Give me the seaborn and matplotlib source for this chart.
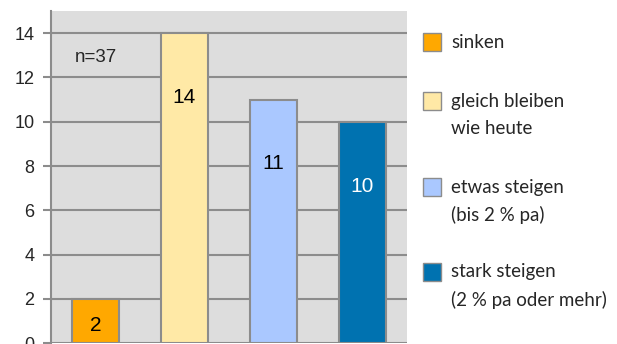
import matplotlib

matplotlib.use("Agg")

import matplotlib.pyplot as plt
import pandas as pd
import seaborn as sns
from matplotlib.patches import Rectangle

categories = ["sinken", "gleich bleiben", "etwas steigen", "stark steigen"]
values = [2, 14, 11, 10]
bar_colors = ["#FFA800", "#FFE9A6", "#AAC8FF", "#0072B0"]
label_colors = ["black", "black", "black", "white"]
legend_lines = [
    ["sinken"],
    ["gleich bleiben", "wie heute"],
    ["etwas steigen", "(bis 2 % pa)"],
    ["stark steigen", "(2 % pa oder mehr)"],
]
y_ticks = [0, 2, 4, 6, 8, 10, 12, 14]
sample_note = "n=37"

frame = pd.DataFrame({"category": categories, "value": values})

sns.set_theme(style="white")
plt.rcParams["font.family"] = ["Liberation Sans", "DejaVu Sans"]

W, H = 617, 344
fig = plt.figure(figsize=(W / 100, H / 100), dpi=100)
ax = fig.add_axes((51 / W, 1 - 343.3 / H, (407 - 51) / W, (343.3 - 11) / H))
ax.set_facecolor("#DDDDDD")

sns.barplot(
    data=frame,
    x="category",
    y="value",
    hue="category",
    palette=bar_colors,
    saturation=1,
    dodge=False,
    width=0.52,
    edgecolor="#8C8C8C",
    linewidth=1.5,
    legend=False,
    ax=ax,
    zorder=3,
)

ax.set_ylim(0, 15)
ax.set_xlim(-0.5, 3.5)
ax.set_yticks(y_ticks)
ax.set_yticklabels([str(t) for t in y_ticks], fontsize=13)
ax.set_xticks([])
ax.set_xlabel("")
ax.set_ylabel("")
ax.yaxis.grid(True, color="#8C8C8C", linewidth=1.5, zorder=1)
ax.set_axisbelow(True)
ax.tick_params(axis="y", left=True, length=6, width=1.5, color="#8C8C8C", pad=6)
for side in ["top", "right", "bottom"]:
    ax.spines[side].set_visible(False)
ax.spines["left"].set_color("#8C8C8C")
ax.spines["left"].set_linewidth(1.5)

for i, (v, c) in enumerate(zip(values, label_colors)):
    y = v - 2.9 if v > 4 else v * 0.41
    ax.text(i, y, str(v), ha="center", va="center", fontsize=15, color=c, zorder=4)

ax.text(0, 12.9, sample_note, ha="center", va="center", fontsize=13.5, zorder=4)

# legend drawn by hand so the swatch sits beside the first line
entry_tops = [42, 101, 187, 272]
for lines, color, yc in zip(legend_lines, bar_colors, entry_tops):
    fig.add_artist(
        Rectangle(
            (423 / W, 1 - (yc + 9) / H),
            18 / W,
            18 / H,
            transform=fig.transFigure,
            facecolor=color,
            edgecolor="#8C8C8C",
            linewidth=1,
        )
    )
    for k, line in enumerate(lines):
        fig.text(
            451 / W,
            1 - (yc + 28 * k) / H,
            line,
            ha="left",
            va="center",
            fontsize=13.5,
            family=["Lato", "DejaVu Sans"],
        )

fig.savefig("out.png", dpi=100)
